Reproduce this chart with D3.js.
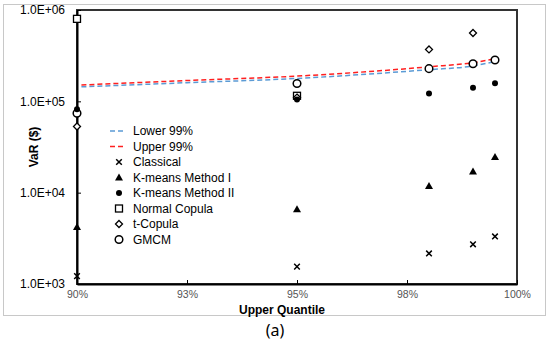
<!DOCTYPE html>
<html>
<head>
<meta charset="utf-8">
<title>VaR chart</title>
<script src="https://cdn.jsdelivr.net/npm/d3@7"></script>
<style>
  body { margin: 0; background: #fff; }
  text { font-family: "Liberation Sans", Arial, sans-serif; }
</style>
</head>
<body>
<div id="chart"></div>
<script>
// quantiles where the methods are evaluated
var quantiles = [0.90, 0.95, 0.98, 0.99, 0.995];

// VaR ($) per method, null where no marker shows
var classical   = [1220, 1550, 2160, 2720, 3320];
var kmeansOne   = [4200, 6600, 11800, 17100, 24600];
var kmeansTwo   = [82000, 105000, 122000, 141000, 158000];
var normalCop   = [800000, 115000, null, null, null];
var tCopula     = [53000, 110000, 370000, 560000, null];
var gmcm        = [74000, 157000, 228000, 258000, 283000];

// confidence band lines
var bandQuantiles = [0.901, 0.925, 0.95, 0.975, 0.98, 0.99, 0.995];
var lower99 = [144000, 160000, 178000, 213000, 222000, 244000, 273000];
var upper99 = [151000, 169000, 189000, 228000, 239000, 265000, 293000];

var yTicks = [1e3, 1e4, 1e5, 1e6];
var xTicks = [0.90, 0.925, 0.95, 0.975, 1.0];

var width = 550, height = 340;
var plotL = 77, plotR = 517, plotT = 10, plotB = 284;

var svg = d3.select("#chart").append("svg")
    .attr("width", width)
    .attr("height", height);

// outer gray frame
svg.append("rect")
    .attr("x", 3.5).attr("y", 4.5)
    .attr("width", 542).attr("height", 311)
    .attr("fill", "none")
    .attr("stroke", "#c8c8c8")
    .attr("stroke-width", 1);

var x = d3.scaleLinear().domain([0.9, 1.0]).range([plotL, plotR]);
var y = d3.scaleLog().domain([1e3, 1e6]).range([plotB, plotT]);

// plot frame
svg.append("rect")
    .attr("x", plotL).attr("y", plotT)
    .attr("width", plotR - plotL).attr("height", plotB - plotT)
    .attr("fill", "none")
    .attr("stroke", "#333")
    .attr("stroke-width", 2);

// axes with inward ticks
var yAxis = svg.append("g")
    .attr("transform", "translate(" + plotL + ",0)")
    .call(d3.axisLeft(y).tickValues(yTicks).tickSizeInner(-4).tickSizeOuter(0)
        .tickPadding(12)
        .tickFormat(function(d) { return "1.0E+0" + Math.round(Math.log10(d)); }));
yAxis.select(".domain").attr("stroke", "#000").attr("stroke-width", 2);
yAxis.selectAll("text").attr("font-size", "12px").attr("fill", "#000")
    .style("font-family", "'Liberation Sans', Arial, sans-serif");

var xAxis = svg.append("g")
    .attr("transform", "translate(0," + plotB + ")")
    .call(d3.axisBottom(x).tickValues(xTicks).tickSizeInner(-4).tickSizeOuter(0)
        .tickPadding(7)
        .tickFormat(d3.format(".0%")));
xAxis.select(".domain").attr("stroke", "#000").attr("stroke-width", 2);
xAxis.selectAll("text").attr("font-size", "10.5px").attr("fill", "#555")
    .style("font-family", "'Liberation Sans', Arial, sans-serif");

// axis titles
svg.append("text")
    .attr("transform", "translate(38,147) rotate(-90)")
    .attr("text-anchor", "middle")
    .attr("font-size", "12px")
    .attr("font-weight", "bold")
    .text("VaR ($)");

svg.append("text")
    .attr("x", 282).attr("y", 313.5)
    .attr("text-anchor", "middle")
    .attr("font-size", "12px")
    .attr("font-weight", "bold")
    .text("Upper Quantile");

svg.append("text")
    .attr("x", 275).attr("y", 336)
    .attr("text-anchor", "middle")
    .attr("font-size", "16px")
    .style("font-family", "'Noto Sans', sans-serif")
    .text("(a)");

// band lines
var line = d3.line()
    .x(function(d) { return x(d[0]); })
    .y(function(d) { return y(d[1]); })
    .curve(d3.curveMonotoneX);

var bands = [
    { name: "Lower 99%", color: "#5b9bd5", values: lower99 },
    { name: "Upper 99%", color: "#ff2020", values: upper99 }
];

bands.forEach(function(b) {
    svg.append("path")
        .datum(d3.zip(bandQuantiles, b.values))
        .attr("d", line)
        .attr("fill", "none")
        .attr("stroke", b.color)
        .attr("stroke-width", 1.5)
        .attr("stroke-dasharray", "5,3");
});

// marker shapes
function drawMarker(g, kind) {
    if (kind == "cross") {
        g.append("path").attr("d", "M-2.8,-2.8L2.8,2.8M-2.8,2.8L2.8,-2.8")
            .attr("stroke", "#000").attr("stroke-width", 1.5);
    } else if (kind == "triangle") {
        g.append("path").attr("d", "M0,-4L4,3L-4,3Z").attr("fill", "#000");
    } else if (kind == "dot") {
        g.append("circle").attr("r", 3).attr("fill", "#000");
    } else if (kind == "square") {
        g.append("rect").attr("x", -3.5).attr("y", -3.5).attr("width", 7).attr("height", 7)
            .attr("fill", "#fff").attr("stroke", "#000").attr("stroke-width", 1.3);
    } else if (kind == "diamond") {
        g.append("path").attr("d", "M0,-3.5L3.5,0L0,3.5L-3.5,0Z")
            .attr("fill", "#fff").attr("stroke", "#000").attr("stroke-width", 1.3);
    } else if (kind == "circle") {
        g.append("circle").attr("r", 3.8)
            .attr("fill", "#fff").attr("stroke", "#000").attr("stroke-width", 1.5);
    }
}

var methods = [
    { name: "Classical", kind: "cross", values: classical },
    { name: "K-means Method I", kind: "triangle", values: kmeansOne },
    { name: "K-means Method II", kind: "dot", values: kmeansTwo },
    { name: "Normal Copula", kind: "square", values: normalCop },
    { name: "t-Copula", kind: "diamond", values: tCopula },
    { name: "GMCM", kind: "circle", values: gmcm }
];

// draw so filled dots sit on top of the open square like in the picture
var drawOrder = [0, 1, 3, 4, 5, 2];
drawOrder.forEach(function(k) {
    var m = methods[k];
    m.values.forEach(function(v, i) {
        if (v == null) return;
        var g = svg.append("g")
            .attr("transform", "translate(" + x(quantiles[i]) + "," + y(v) + ")");
        drawMarker(g, m.kind);
    });
});

// legend
var legend = svg.append("g");
var rowH = 15.5, ly = 131;

bands.forEach(function(b, i) {
    legend.append("line")
        .attr("x1", 110).attr("x2", 126)
        .attr("y1", ly + i * rowH).attr("y2", ly + i * rowH)
        .attr("stroke", b.color).attr("stroke-width", 1.5)
        .attr("stroke-dasharray", "5,3");
    legend.append("text")
        .attr("x", 133).attr("y", ly + i * rowH + 4)
        .attr("font-size", "12px")
        .text(b.name);
});

methods.forEach(function(m, i) {
    var yy = ly + (i + 2) * rowH;
    var g = legend.append("g").attr("transform", "translate(119," + yy + ")");
    drawMarker(g, m.kind);
    legend.append("text")
        .attr("x", 133).attr("y", yy + 4)
        .attr("font-size", "12px")
        .text(m.name);
});
</script>
</body>
</html>
